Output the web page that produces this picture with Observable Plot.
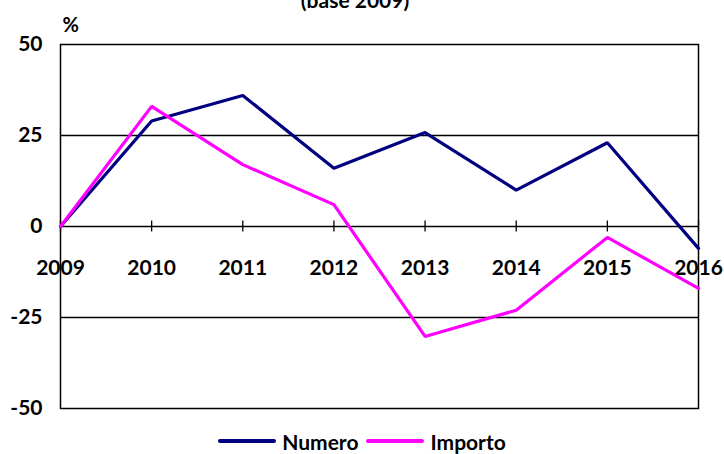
<!DOCTYPE html>
<html>
<head>
<meta charset="utf-8">
<script src="https://cdn.jsdelivr.net/npm/d3@7"></script>
<script src="https://cdn.jsdelivr.net/npm/@observablehq/plot@0.6"></script>
<style>
  html, body { margin: 0; padding: 0; background: #fff; }
  body { width: 724px; height: 454px; overflow: hidden; position: relative; font-family: Lato, "Open Sans", sans-serif; font-weight: bold; }
  #title { position: absolute; top: -12px; left: 0; width: 710px; text-align: center; font-size: 21px; line-height: 24px; font-weight: bold; z-index: 2; }
  #chart { position: absolute; top: 0; left: 0; }
  #legend { position: absolute; top: 428px; left: 0; width: 724px; height: 26px; display: flex; justify-content: center; align-items: center; font-size: 21px; font-weight: bold; padding-left: 0; }
  .item { display: flex; align-items: center; margin: 0 4px; }
  .sw { display: inline-block; width: 58px; height: 4px; margin-right: 6px; border-radius: 2px; }
</style>
</head>
<body>
<div id="title">(base 2009)</div>
<div id="chart"></div>
<div id="legend"></div>
<script>
const years = [2009, 2010, 2011, 2012, 2013, 2014, 2015, 2016];
const numero = [0, 29, 36, 16, 25.8, 10, 23, -6];
const importo = [0, 33, 17, 6, -30.2, -23, -3, -17];
const yTicks = [-50, -25, 0, 25, 50];
const gridValues = [-25, 25];
const seriesNames = ["Numero", "Importo"];
const seriesColors = ["#000080", "#FF00FF"];

const data = [
  ...years.map((y, i) => ({year: y, value: numero[i], series: seriesNames[0]})),
  ...years.map((y, i) => ({year: y, value: importo[i], series: seriesNames[1]}))
];

const chart = Plot.plot({
  width: 724,
  height: 428,
  marginTop: 44,
  marginBottom: 20,
  marginLeft: 60,
  marginRight: 26,
  style: {fontFamily: "Lato, 'Open Sans', sans-serif", fontWeight: "bold", fontSize: "21px", color: "#000", background: "transparent"},
  x: {type: "linear", domain: [2009, 2016], axis: null},
  y: {domain: [-50, 50], axis: null},
  color: {domain: seriesNames, range: seriesColors},
  marks: [
    Plot.ruleY(gridValues, {stroke: "#000", strokeWidth: 1.3}),
    Plot.ruleY([0], {stroke: "#000", strokeWidth: 1.3}),
    Plot.ruleX(years, {x: d => d, y1: -1.5, y2: 1.5, stroke: "#000", strokeWidth: 1.3}),
    Plot.frame({stroke: "#000", strokeWidth: 1.5}),
    Plot.axisY(yTicks, {tickSize: 0, tickPadding: 18, fontSize: 21, fontWeight: "bold", label: null, tickFormat: d => String(d)}),
    Plot.text(years, {x: d => d, y: 0, text: d => String(d), dy: 42, fontSize: 21, fontWeight: "bold", fill: "#000"}),
    Plot.text(["%"], {frameAnchor: "top-left", text: d => d, dx: 2, dy: -27, fontSize: 20, fontWeight: "bold", textAnchor: "start", fill: "#000"}),
    Plot.line(data, {x: "year", y: "value", z: "series", stroke: "series", strokeWidth: 3.2, strokeLinejoin: "miter"})
  ]
});
document.getElementById("chart").appendChild(chart);

const legend = document.getElementById("legend");
seriesNames.forEach((name, i) => {
  const item = document.createElement("div");
  item.className = "item";
  const sw = document.createElement("span");
  sw.className = "sw";
  sw.style.background = seriesColors[i];
  const label = document.createElement("span");
  label.textContent = name;
  item.appendChild(sw);
  item.appendChild(label);
  legend.appendChild(item);
});
</script>
</body>
</html>
